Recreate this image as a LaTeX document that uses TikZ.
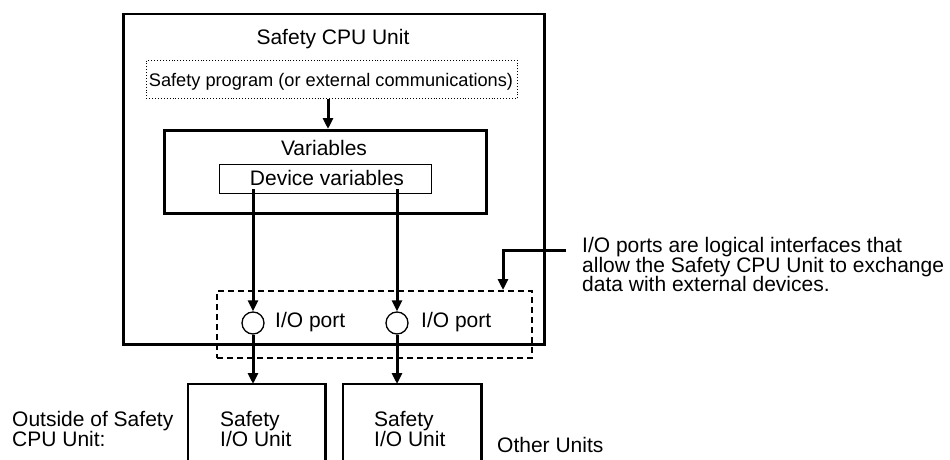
\documentclass[tikz,border=0pt]{standalone}
\usepackage{fontspec}
\setmainfont{Liberation Sans}
\usetikzlibrary{arrows.meta,calc}
\begin{document}
\begin{tikzpicture}[x=1pt,y=-1pt,
  box/.style={draw, line width=2.5pt, inner sep=0pt, anchor=north west},
  arr/.style={line width=3pt, -{Triangle[length=11pt,width=10pt]}},
  txt/.style={font=\fontsize{21}{19}\selectfont, inner sep=0pt, anchor=base west},
  ctxt/.style={font=\fontsize{21}{19}\selectfont, inner sep=0pt, anchor=base},
  port/.style={draw, circle, line width=1.3pt, minimum size=22pt, inner sep=0pt, fill=white},
]
\useasboundingbox (0,0) rectangle (950,460);
% main CPU box
\node[box, minimum width=421pt, minimum height=330pt] (main) at (122,13) {};
\node[ctxt] (title) at (333,45) {Safety CPU Unit};
% program box
\node[box, line width=0.9pt, dotted, minimum width=371pt, minimum height=38pt] (prog) at (146,60) {};
\node[ctxt, font=\fontsize{18.2}{19}\selectfont] (progt) at (331,86) {Safety program (or external communications)};
% variables
\node[box, minimum width=322pt, minimum height=83pt] (vars) at (163,129) {};
\node[ctxt] (varst) at (324,155) {Variables};
\node[box, line width=1.3pt, minimum width=212pt, minimum height=29pt] (dev) at (219,164) {};
\node[ctxt] (devt) at (327,185) {Device variables};
% dashed I/O port region
\node[box, line width=2pt, dash pattern=on 6pt off 4pt, minimum width=315pt, minimum height=67pt] (dash) at (216,290) {};
% ports
\node[port] (c1) at (253,323) {};
\node[port] (c2) at (397,323) {};
\node[txt] (p1) at (275,327) {I/O port};
\node[txt] (p2) at (421,327) {I/O port};
% arrows inside
\coordinate (ax) at (328,0);
\draw[arr] (prog.south -| ax) -- (vars.north -| ax);
\draw[arr] ($(c1 |- dev.south)+(0,-5)$) -- (c1.north);
\draw[arr] ($(c2 |- dev.south)+(0,-5)$) -- (c2.north);
% lower units
\node[inner sep=0pt, minimum width=137pt, minimum height=82pt, anchor=north west] (u1) at (188,384) {};
\node[inner sep=0pt, minimum width=138pt, minimum height=82pt, anchor=north west] (u2) at (343,384) {};
\draw[line width=2.5pt] (u1.south west) -- (u1.north west) -- (u1.north east) -- (u1.south east);
\draw[line width=2.5pt] (u2.south west) -- (u2.north west) -- (u2.north east) -- (u2.south east);
\node[txt] (u1a) at (220,426) {Safety};
\node[txt] (u1b) at (220,446) {I/O Unit};
\node[txt] (u2a) at (374,426) {Safety};
\node[txt] (u2b) at (374,446) {I/O Unit};
\draw[arr] (c1.south) -- (c1 |- u1.north);
\draw[arr] (c2.south) -- (c2 |- u2.north);
% left label
\node[txt] (out1) at (12,426) {Outside of Safety};
\node[txt] (out2) at (12,446) {CPU Unit:};
\node[txt] (other) at (497,452) {Other Units};
% callout
\coordinate (cs) at (566,250);
\coordinate (cx) at (503,0);
\draw[arr] (cs) -| (cx |- dash.north);
\node[txt] (n1) at (582,252) {I/O ports are logical interfaces that};
\node[txt] (n2) at (582,272) {allow the Safety CPU Unit to exchange};
\node[txt] (n3) at (582,291) {data with external devices.};
\end{tikzpicture}
\end{document}
